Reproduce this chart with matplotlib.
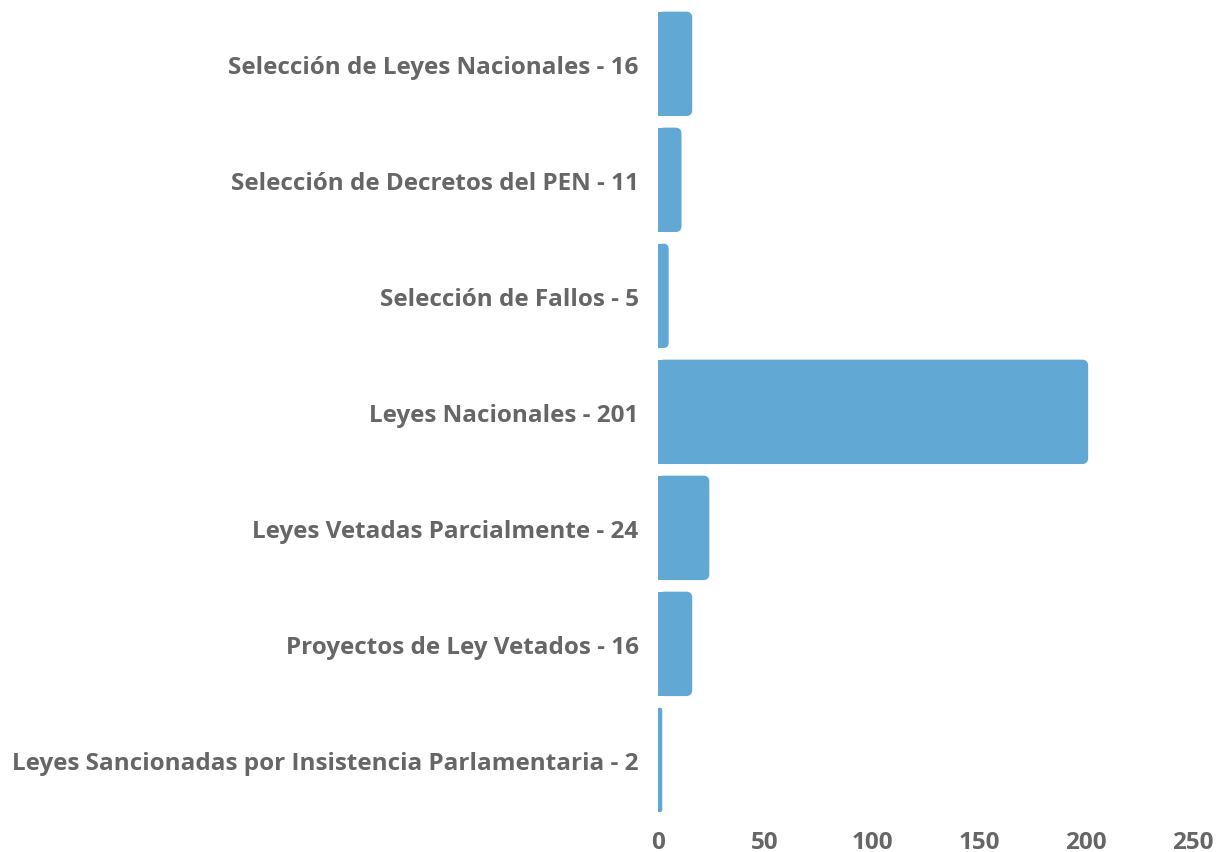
import matplotlib.pyplot as plt
from matplotlib.patches import FancyBboxPatch, Rectangle

plt.rcParams['font.family'] = ['Open Sans', 'DejaVu Sans']

categories = [
    'Selección de Leyes Nacionales',
    'Selección de Decretos del PEN',
    'Selección de Fallos',
    'Leyes Nacionales',
    'Leyes Vetadas Parcialmente',
    'Proyectos de Ley Vetados',
    'Leyes Sancionadas por Insistencia Parlamentaria',
]
counts = [16, 11, 5, 201, 24, 16, 2]
x_ticks = [0, 50, 100, 150, 200, 250]

BAR_COLOR = '#62a8d5'
TEXT_COLOR = '#666666'

fig = plt.figure(figsize=(12.23, 8.53), dpi=100)
ax = fig.add_axes([0.538, 0.040, 0.4375, 0.952])

labels = [f'{c} - {n}' for c, n in zip(categories, counts)]
ypos = list(range(len(categories)))
bars = ax.barh(ypos, counts, height=0.9, color=BAR_COLOR)
ax.set_xlim(0, 250)
ax.set_ylim(len(categories) - 0.5, -0.5)

# swap square bars for ones with rounded right corners
radius_x = 2.8
aspect = (250 / 535) ** -1 / (len(categories) * 1.0 / 812) ** -1
for b in bars:
    b.set_visible(False)
    x, y, w, h = b.get_x(), b.get_y(), b.get_width(), b.get_height()
    r = min(radius_x, w / 2)
    ax.add_patch(FancyBboxPatch((x, y), w, h,
                                boxstyle=f'round,pad=0,rounding_size={r}',
                                mutation_aspect=aspect,
                                facecolor=BAR_COLOR, edgecolor='none'))
    ax.add_patch(Rectangle((x, y), max(w - r, 0), h,
                           facecolor=BAR_COLOR, edgecolor='none'))

ax.set_yticks(ypos)
ax.set_yticklabels(labels, fontsize=17.5, fontweight='bold', color=TEXT_COLOR)
ax.set_xticks(x_ticks)
ax.set_xticklabels([str(t) for t in x_ticks], fontsize=17.5, fontweight='bold',
                   color=TEXT_COLOR)
ax.tick_params(axis='both', length=0)
ax.tick_params(axis='y', pad=14)
ax.tick_params(axis='x', pad=9)
for s in ax.spines.values():
    s.set_visible(False)

fig.savefig('out.png', dpi=100)
